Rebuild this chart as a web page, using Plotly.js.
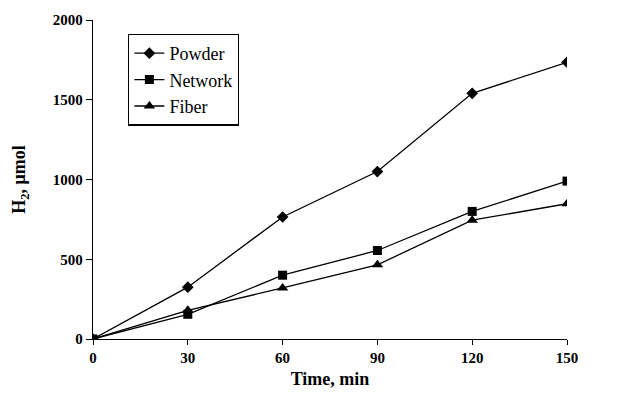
<!DOCTYPE html>
<html><head><meta charset="utf-8">
<script src="https://cdn.plot.ly/plotly-3.0.1.min.js"></script>
<style>body{margin:0;background:#fff}#c{width:618px;height:396px}</style>
</head><body><div id="c"></div>
<script>
const time = [0, 30, 60, 90, 120, 150];
const powder = [0, 325, 765, 1050, 1540, 1735];
const network = [0, 155, 400, 555, 800, 990];
const fiber = [0, 180, 320, 465, 745, 848];
const seriesNames = ['Powder', 'Network', 'Fiber'];
const symbols = ['diamond', 'square', 'triangle-up'];
const sizes = [9, 9, 10];
const vals = [powder, network, fiber];

const traces = vals.map((v, i) => ({
  x: time, y: v, name: seriesNames[i], type: 'scatter', mode: 'lines+markers',
  line: {color: '#000', width: 1.3},
  marker: {symbol: symbols[i], size: sizes[i], color: '#000'}
}));

const font = 'Liberation Serif';
const layout = {
  width: 618, height: 396,
  margin: {l: 93, r: 51, t: 20, b: 57},
  paper_bgcolor: '#fff', plot_bgcolor: '#fff',
  font: {family: font, color: '#000'},
  showlegend: true,
  legend: {x: 0.074, y: 0.957, xanchor: 'left', yanchor: 'top',
    bordercolor: '#000', borderwidth: 1.3, bgcolor: '#fff',
    font: {family: font, size: 18, color: '#000'}},
  xaxis: {range: [0, 150], tickvals: time, ticks: 'outside', ticklen: 5, tickcolor: '#000',
    showline: true, linecolor: '#000', linewidth: 1.3, showgrid: false, zeroline: false,
    tickfont: {family: font, size: 15, color: '#000', weight: 'bold'},
    title: {text: '<b>Time, min</b>', font: {family: font, size: 18, color: '#000'}, standoff: 7}},
  yaxis: {range: [0, 2000], tickvals: [0, 500, 1000, 1500, 2000], ticks: 'outside', ticklen: 6, tickcolor: '#000',
    showline: true, linecolor: '#000', linewidth: 1.3, showgrid: false, zeroline: false,
    tickfont: {family: font, size: 15, color: '#000', weight: 'bold'},
    title: {text: '<b>H<sub>2</sub>, μmol</b>', font: {family: font, size: 18, color: '#000'}, standoff: 22}},
};
Plotly.newPlot('c', traces, layout, {displayModeBar: false, responsive: false});
</script></body></html>
